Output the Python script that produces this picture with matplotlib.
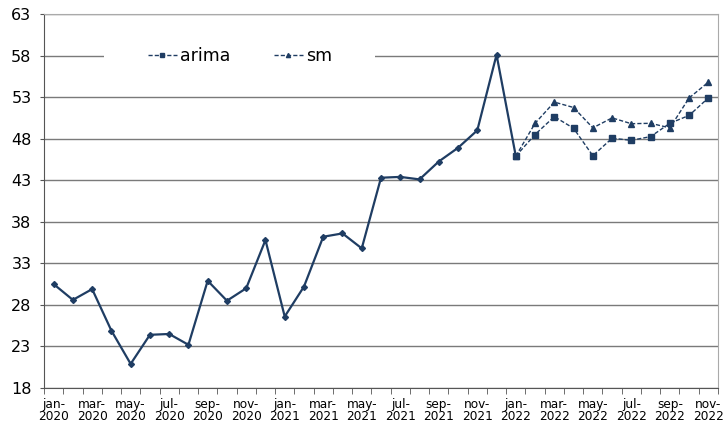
import numpy as np
import matplotlib.pyplot as plt
from matplotlib.patches import Rectangle

plt.rcParams['font.family'] = ['DejaVu Sans']

# months jan-2020 .. nov-2022
months = ['jan', 'feb', 'mar', 'apr', 'may', 'jun', 'jul', 'aug', 'sep', 'oct', 'nov', 'dec']
labels = [f'{m}-\n{y}' for y in (2020, 2021, 2022) for m in months][:35]

actual = [30.5, 28.6, 29.9, 24.9, 20.9, 24.4, 24.5, 23.2, 30.9, 28.5, 30.0, 35.8,
          26.6, 30.2, 36.2, 36.6, 34.8, 43.3, 43.4, 43.1, 45.25, 46.9, 49.0, 58.1,
          45.9]
arima = [45.9, 48.5, 50.65, 49.25, 45.95, 48.05, 47.8, 48.25, 49.85, 50.8, 52.9]
sm = [45.9, 49.85, 52.4, 51.75, 49.3, 50.5, 49.8, 49.85, 49.3, 52.9, 54.8]

yticks = [18, 23, 28, 33, 38, 43, 48, 53, 58, 63]
col = '#1f3d63'

fig = plt.figure(figsize=(7.25, 4.24), dpi=100)
ax = fig.add_axes([44 / 725, 1 - 388 / 424, 674 / 725, 374 / 424])

x_act = np.arange(len(actual))
x_fc = np.arange(len(actual) - 1, len(actual) - 1 + len(arima))

ax.plot(x_act, actual, color=col, lw=1.6, marker='D', ms=3, zorder=3)
ax.plot(x_fc, arima, color=col, lw=1, ls=(0, (3, 1.5)), marker='s', ms=5,
        label='arima', zorder=3)
ax.plot(x_fc, sm, color=col, lw=1, ls=(0, (3, 1.5)), marker='^', ms=5,
        label='sm', zorder=3)

ax.set_xlim(-0.5, 34.5)
ax.set_ylim(18, 63)
ax.set_yticks(yticks)
ax.set_yticklabels([str(v) for v in yticks], fontsize=11.5)
ax.set_xticks(np.arange(0, 35, 2))
ax.set_xticklabels(labels[::2], fontsize=8.7, linespacing=0.95)
ax.set_xticks(np.arange(-0.5, 35, 1), minor=True)
ax.tick_params(axis='x', which='major', length=0, pad=7)
ax.tick_params(axis='x', which='minor', length=4, color='#555555')
ax.tick_params(axis='y', length=3, color='#555555', pad=6)

ax.grid(axis='y', color='#7a7a7a', lw=1)
ax.set_axisbelow(True)
for s in ('top', 'right'):
    ax.spines[s].set_color('#aaaaaa')
for s in ('left', 'bottom'):
    ax.spines[s].set_color('#555555')

# white patch behind the legend, breaking the 58 gridline
ax.add_patch(Rectangle(((104 - 44) / 674, 0.85), (375 - 104) / 674, 0.06,
                       transform=ax.transAxes, facecolor='white',
                       edgecolor='none', zorder=1))

leg = ax.legend(loc='center left', bbox_to_anchor=((148 - 44) / 674, 0.8888),
                ncol=2, fontsize=12.5, frameon=False, handlelength=1.65,
                markerscale=0.6, columnspacing=2.5, borderpad=0,
                borderaxespad=0, handletextpad=0.2)

fig.savefig('out.png', dpi=100)
